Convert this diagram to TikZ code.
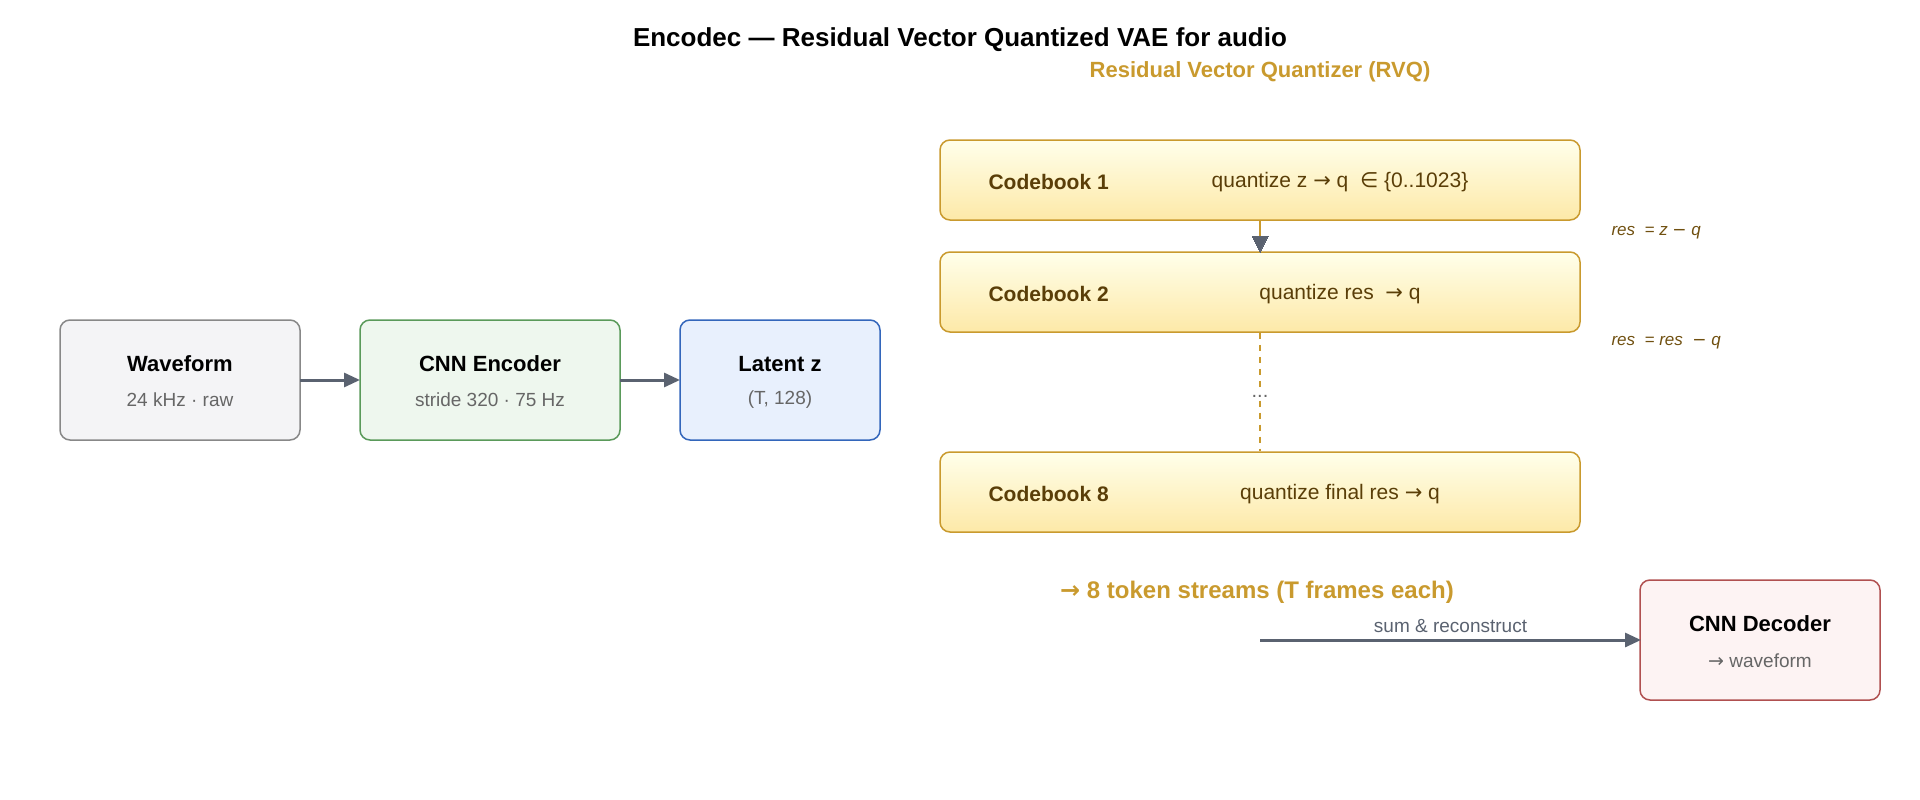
\documentclass[tikz,border=0pt]{standalone}
\usepackage{fontspec}
\setmainfont{Liberation Sans}
\newfontfamily\dv{DejaVu Sans}
\usetikzlibrary{arrows.meta}
\definecolor{gold}{HTML}{C99A2E}
\definecolor{goldtxt}{HTML}{5A3E08}
\definecolor{arr}{HTML}{5A6270}
\definecolor{subg}{HTML}{666666}
\begin{document}
\begin{tikzpicture}[x=1pt,y=-1pt,
 box/.style={rounded corners=10pt,line width=1.5pt},
 cb/.style={box,draw=gold,top color=yellow!8!white,bottom color={rgb,255:red,253;green,233;blue,168},minimum width=640pt,minimum height=80pt},
 ttl/.style={font=\fontsize{22}{24}\selectfont\bfseries},
 sub/.style={font=\fontsize{19}{22}\selectfont,text=subg},
 cbl/.style={font=\fontsize{21}{24}\selectfont\bfseries,text=goldtxt,anchor=west},
 cbq/.style={font=\fontsize{21}{24}\selectfont,text=goldtxt},
 resl/.style={font=\fontsize{17}{20}\selectfont\itshape,text=goldtxt!80!gold,anchor=west},
 ar/.style={-{Triangle[length=16pt,width=14pt]},line width=3pt,draw=arr}]
\useasboundingbox (0,0) rectangle (1920,800);
\node[font=\fontsize{26}{30}\selectfont\bfseries] (title) at (960,40) {Encodec — Residual Vector Quantized VAE for audio};
\node[font=\fontsize{22}{26}\selectfont\bfseries,text=gold] (rvq) at (1260,72) {Residual Vector Quantizer (RVQ)};
% left boxes
\draw[box,fill={rgb,255:red,244;green,244;blue,246},draw={rgb,255:red,136;green,136;blue,136}] (60,320) rectangle (300,440);
\node[ttl] (wf) at (180,364) {Waveform};
\node[sub] (wfs) at (180,400) {24 kHz · raw};
\draw[box,fill={rgb,255:red,238;green,247;blue,238},draw={rgb,255:red,90;green,154;blue,90}] (360,320) rectangle (620,440);
\node[ttl] (enc) at (490,364) {CNN Encoder};
\node[sub] (encs) at (490,400) {stride 320 · 75 Hz};
\draw[box,fill={rgb,255:red,232;green,240;blue,253},draw={rgb,255:red,51;green,102;blue,187}] (680,320) rectangle (880,440);
\node[ttl] (lat) at (780,364) {Latent z};
\node[sub] (lats) at (780,400) {(T, 128)};
\coordinate (a1) at (300,380); \coordinate (a2) at (360,380);
\coordinate (a3) at (620,380); \coordinate (a4) at (680,380);
\draw[ar] (a1) -- (a2);
\draw[ar] (a3) -- (a4);
% codebooks
\node[cb] (c1) at (1260,180) {};
\node[cb] (c2) at (1260,292) {};
\node[cb] (c8) at (1260,492) {};
\node[cbl] at (985,182) {Codebook 1};
\node[cbq] at (1340,182) {quantize z {\dv→} q \ {\dv∈} \{0..1023\}};
\node[cbl] at (985,294) {Codebook 2};
\node[cbq] at (1340,294) {quantize res \ {\dv→} q};
\node[cbl] at (985,494) {Codebook 8};
\node[cbq] at (1340,494) {quantize final res {\dv→} q};
\draw[line width=2pt,draw=gold] (c1.south) -- (1260,236);
\draw[line width=0pt,fill=arr,draw=arr] (1252,236) -- (1268,236) -- (1260,252) -- cycle;
\node[font=\fontsize{20}{22}\selectfont,text=subg] (dots) at (1260,396) {...};
\draw[line width=2.5pt,draw=gold,dash pattern=on 6pt off 6pt] (c2.south) -- (dots.north);
\draw[line width=2.5pt,draw=gold,dash pattern=on 6pt off 6pt] (dots.south) -- (c8.north);
\node[resl] at (1608,233) {res \ = z {\dv−} q};
\node[resl] at (1608,343) {res \ = res \ {\dv−} q};
% bottom
\node[font=\fontsize{24}{28}\selectfont\bfseries,text=gold] (tok) at (1257,592) {{\dv→} 8 token streams (T frames each)};
\draw[box,fill={rgb,255:red,253;green,243;blue,243},draw={rgb,255:red,176;green,80;blue,80}] (1640,580) rectangle (1880,700);
\node[ttl] (dec) at (1760,624) {CNN Decoder};
\node[sub] (decs) at (1760,661) {{\dv→} waveform};
\coordinate (s) at (1260,640); \coordinate (e) at (1641,640);
\draw[ar] (s) -- node[above=2pt,font=\fontsize{19}{22}\selectfont,text=arr] {sum \& reconstruct} (e);
\end{tikzpicture}
\end{document}
